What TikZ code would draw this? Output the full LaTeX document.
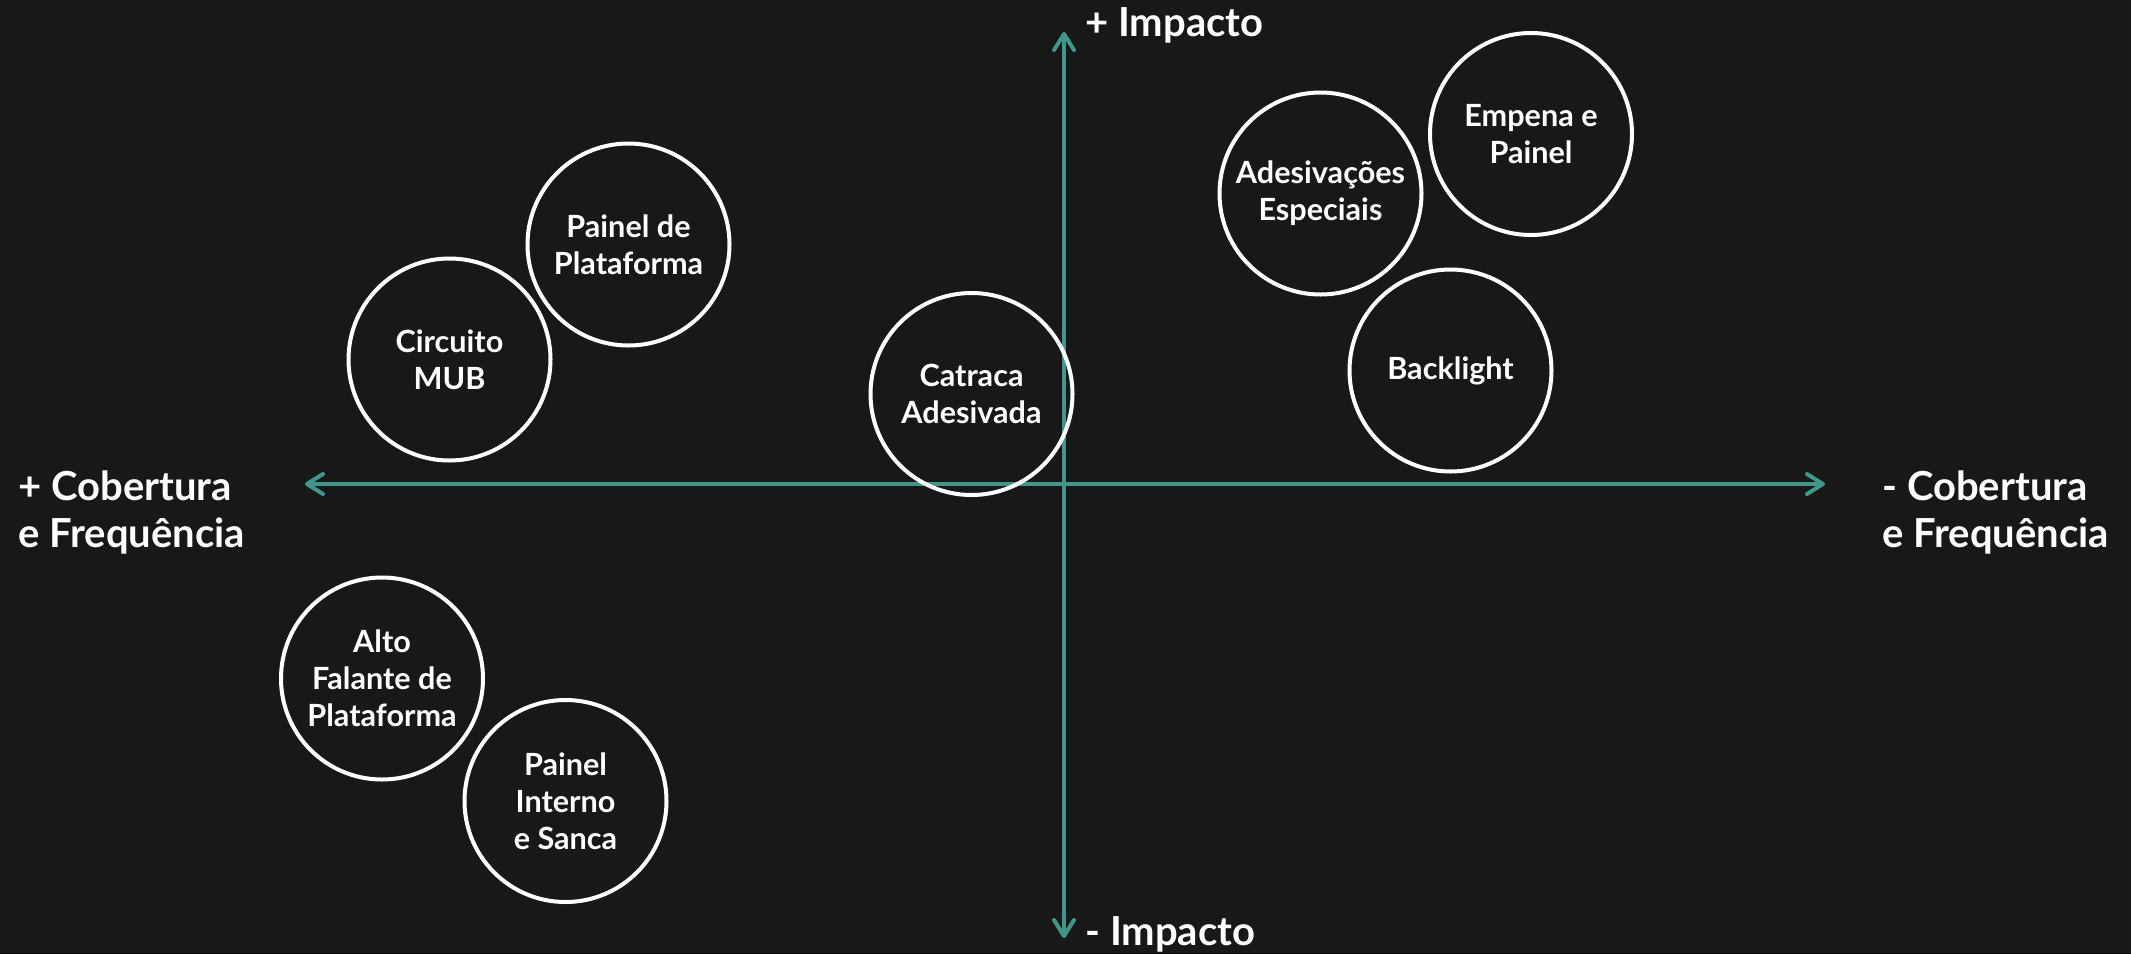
\documentclass[tikz,border=0pt]{standalone}
\usepackage{fontspec}
\setmainfont{Lato}
\usetikzlibrary{arrows.meta}
\definecolor{bgdark}{HTML}{181818}
\definecolor{axisteal}{HTML}{409789}
\tikzset{
  axis/.style={draw=axisteal, line width=2pt, {Straight Barb[length=8pt, width=10pt, round]}-{Straight Barb[length=8pt, width=10pt, round]}},
  media/.style={circle, draw=white, line width=2pt, minimum size=101pt, inner sep=0pt, align=center, text=white, font=\bfseries\fontsize{15.3}{18.5}\selectfont},
  axislabel/.style={text=white, inner sep=0pt, align=left, font=\bfseries\fontsize{20}{23.5}\selectfont}
}
\begin{document}
\begin{tikzpicture}[x=0.5pt, y=-0.5pt]
  \fill[bgdark] (0,0) rectangle (2131,954);
  \useasboundingbox (0,0) rectangle (2131,954);

  % axes
  \coordinate (west) at (305,484);
  \coordinate (east) at (1825,484);
  \coordinate (north) at (1064,32);
  \coordinate (south) at (1064,938);
  \draw[axis] (west) -- (east);
  \draw[axis] (south) -- (north);

  \node[axislabel, anchor=base west] (impplus) at (1085,36) {+ Impacto};
  \node[axislabel, anchor=base west] (impminus) at (1085,945) {- Impacto};
  \node[axislabel, anchor=base west] (cobplus) at (18,547) {+ Cobertura\\e Frequência};
  \node[axislabel, anchor=base west] (cobminus) at (1882,547) {- Cobertura\\e Frequência};

  % formatos
  \node[media] (catraca) at (971.5,394) {Catraca\\Adesivada};
  \node[media] (painelplat) at (628.5,244.5) {Painel de\\Plataforma};
  \node[media] (mub) at (449.5,359.5) {Circuito\\MUB};
  \node[media] (adesiv) at (1320.5,193.5) {Adesivações\\Especiais};
  \node[media] (empena) at (1531,134) {Empena e\\Painel};
  \node[media] (backlight) at (1450.5,370.5) {Backlight};
  \node[media] (altofalante) at (382,678.5) {Alto\\Falante de\\Plataforma};
  \node[media] (painelint) at (565.5,801) {Painel\\Interno\\e Sanca};

\end{tikzpicture}
\end{document}
